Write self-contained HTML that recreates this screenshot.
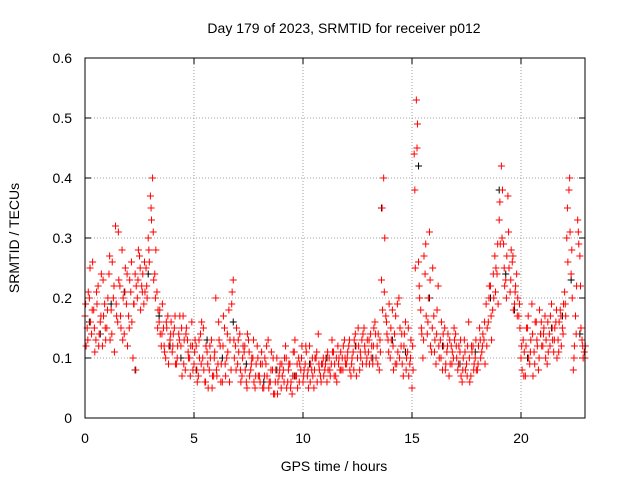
<!DOCTYPE html>
<html><head><meta charset="utf-8"><style>
body{margin:0;background:#fff;}
svg{display:block;font-family:"Liberation Sans",sans-serif;}
</style></head><body>
<svg id="chart" width="640" height="480" viewBox="0 0 640 480">
<rect width="640" height="480" fill="#fff"/>
<text x="344" y="33" font-size="14" text-anchor="middle">Day 179 of 2023, SRMTID for receiver p012</text>
<text x="334" y="471" font-size="14" text-anchor="middle">GPS time / hours</text>
<text transform="translate(19,238) rotate(-90)" font-size="14" text-anchor="middle">SRMTID / TECUs</text>
<g id="grid"></g><g id="ticks"></g><g id="black-pts"></g><g id="red-pts"></g>
<rect x="85" y="58" width="500" height="360" fill="none" stroke="#000" stroke-width="1"/>
</svg>
<script>
const xTicks=[0,5,10,15,20];
const yTicks=[0,0.1,0.2,0.3,0.4,0.5,0.6];
const yTickLabels=["0","0.1","0.2","0.3","0.4","0.5","0.6"];
const startA=0, startB=0.05, startC=0.03, step=0.1;
const redA=[.17,.15,.20,.14,.18,.13,.22,.16,.12,.19,.15,.24,.18,.20,.32,.16,.22,.28,.14,.19,.17,.21,.10,.24,.20,.27,.22,.19,.25,.30,.37,.40,.24,.21,.16,.12,.15,.10,.17,.13,.11,.15,.09,.14,.12,.17,.08,.13,.10,.16,.09,.12,.07,.14,.10,.06,.11,.08,.13,.07,.20,.09,.12,.06,.15,.10,.18,.08,.23,.12,.09,.14,.07,.11,.06,.13,.08,.10,.05,.12,.07,.11,.05,.09,.13,.06,.08,.04,.10,.07,.05,.08,.12,.06,.09,.04,.11,.07,.10,.08,.06,.09,.07,.12,.08,.05,.10,.14,.07,.09,.08,.06,.10,.09,.11,.07,.12,.08,.10,.13,.09,.12,.07,.11,.14,.10,.08,.13,.15,.09,.11,.14,.09,.16,.12,.08,.23,.40,.17,.13,.10,.18,.14,.09,.20,.12,.07,.16,.11,.09,.05,.44,.53,.26,.18,.10,.24,.14,.31,.11,.17,.09,.22,.13,.08,.15,.11,.07,.12,.10,.14,.08,.11,.06,.13,.09,.16,.07,.12,.10,.08,.15,.11,.13,.19,.16,.22,.18,.27,.24,.33,.42,.29,.23,.37,.21,.26,.19,.24,.17,.10,.13,.07,.15,.09,.19,.11,.16,.08,.14,.12,.17,.09,.14,.19,.11,.16,.13,.18,.15,.21,.30,.38,.24,.08,.17,.33,.27,.13,.11];
const redB=[.12,.21,.16,.26,.11,.19,.14,.24,.17,.13,.20,.13,.26,.11,.17,.23,.15,.20,.25,.12,.23,.16,.19,.22,.28,.18,.24,.21,.20,.26,.33,.23,.28,.18,.14,.19,.11,.15,.12,.16,.14,.09,.12,.17,.07,.13,.15,.10,.12,.08,.13,.06,.10,.16,.08,.12,.05,.10,.07,.11,.07,.13,.09,.17,.07,.11,.13,.21,.10,.15,.11,.06,.12,.08,.14,.07,.10,.06,.09,.07,.09,.05,.10,.07,.06,.11,.04,.08,.06,.09,.07,.10,.05,.09,.06,.11,.07,.05,.09,.12,.08,.11,.05,.09,.07,.10,.06,.08,.09,.07,.10,.08,.07,.11,.09,.06,.10,.08,.12,.09,.11,.08,.10,.13,.07,.12,.10,.14,.11,.13,.09,.12,.15,.10,.14,.11,.18,.30,.14,.19,.13,.08,.17,.11,.15,.09,.14,.10,.07,.13,.08,.25,.49,.20,.14,.27,.17,.20,.12,.25,.13,.18,.10,.16,.12,.09,.14,.09,.11,.13,.10,.12,.07,.10,.08,.12,.06,.11,.09,.08,.12,.10,.14,.09,.15,.22,.13,.20,.25,.19,.29,.38,.22,.27,.25,.28,.18,.22,.20,.15,.08,.11,.15,.10,.13,.07,.16,.12,.18,.12,.15,.13,.11,.17,.13,.15,.10,.16,.12,.19,.17,.26,.31,.20,.12,.22,.29,.15,.10,.12];
const redC=[.19,.13,.25,.18,.15,.21,.12,.17,.23,.15,.18,.27,.14,.22,.19,.31,.17,.13,.21,.24,.15,.26,.19,.08,.23,.25,.21,.26,.22,.28,.35,.31,.20,.15,.18,.14,.12,.16,.09,.14,.12,.17,.10,.13,.15,.09,.14,.11,.07,.12,.11,.08,.13,.09,.15,.06,.09,.12,.05,.10,.08,.16,.06,.12,.09,.14,.06,.19,.13,.08,.13,.08,.10,.12,.05,.11,.09,.13,.07,.10,.06,.09,.07,.12,.05,.08,.10,.06,.04,.08,.09,.06,.10,.08,.05,.07,.13,.09,.06,.10,.07,.12,.08,.06,.10,.08,.11,.09,.06,.10,.09,.11,.08,.13,.07,.10,.09,.11,.08,.10,.10,.13,.09,.08,.12,.15,.11,.09,.12,.10,.13,.10,.12,.14,.09,.13,.35,.21,.16,.11,.15,.12,.09,.19,.10,.14,.12,.08,.15,.10,.12,.38,.45,.22,.15,.13,.29,.16,.23,.15,.11,.14,.12,.10,.14,.08,.12,.13,.09,.15,.12,.09,.13,.08,.11,.07,.10,.12,.08,.13,.09,.13,.12,.16,.12,.20,.17,.24,.21,.29,.36,.30,.25,.20,.31,.23,.27,.21,.17,.19,.12,.07,.12,.17,.11,.14,.09,.13,.10,.16,.14,.10,.16,.12,.15,.13,.18,.11,.17,.14,.19,.35,.40,.28,.10,.14,.31,.22,.12,.10];
const blackTimes=[0.2,0.7,1.2,1.8,2.3,2.9,3.4,3.9,4.4,5.1,5.6,6.3,6.8,7.4,8.2,8.8,9.6,10.3,11.1,11.7,12.4,13.2,13.6,14.1,14.7,15.3,15.8,16.4,17.2,17.9,18.6,19.0,19.3,19.7,20.3,20.9,21.4,21.9,22.3,22.7];
const blackVals=[.16,.14,.19,.21,.08,.24,.17,.12,.10,.08,.13,.10,.16,.09,.06,.08,.07,.09,.10,.08,.12,.10,.35,.13,.11,.42,.20,.12,.09,.11,.20,.38,.24,.18,.10,.14,.15,.17,.23,.14];
const NS="http://www.w3.org/2000/svg";
const X=v=>85+v*21.8, Y=v=>418-v*600;
const grid=document.getElementById('grid'), ticks=document.getElementById('ticks');
function mk(tag,at,parent){const e=document.createElementNS(NS,tag);for(const k in at)e.setAttribute(k,at[k]);parent.appendChild(e);return e;}
xTicks.forEach(t=>{
  const l=mk('line',{x1:X(t),x2:X(t),y1:58,y2:418,stroke:'#a0a0a0','stroke-dasharray':'1,2'},grid);
  
  
  mk('line',{x1:X(t),x2:X(t),y1:418,y2:412,stroke:'#000'},ticks);
  mk('line',{x1:X(t),x2:X(t),y1:58,y2:64,stroke:'#000'},ticks);
  const tx=mk('text',{x:X(t),y:443,'font-size':14,'text-anchor':'middle'},ticks);
  tx.textContent=t;
  
  
});
yTicks.forEach((t,i)=>{
  const l=mk('line',{x1:85,x2:585,y1:Y(t),y2:Y(t),stroke:'#a0a0a0','stroke-dasharray':'1,2'},grid);
  
  
  mk('line',{x1:85,x2:91,y1:Y(t),y2:Y(t),stroke:'#000'},ticks);
  mk('line',{x1:585,x2:579,y1:Y(t),y2:Y(t),stroke:'#000'},ticks);
  const tx=mk('text',{x:72,y:Y(t)+5,'font-size':14,'text-anchor':'end'},ticks);
  tx.textContent=yTickLabels[i];
  
  
});
function plus(g,t,v,c){
  const x=X(t),y=Y(v);
  return mk('path',{d:`M${x-3.5},${y}H${x+3.5}M${x},${y-3.5}V${y+3.5}`,stroke:c,'stroke-width':1,fill:'none'},g);
}
const bg=document.getElementById('black-pts'), rg=document.getElementById('red-pts');
blackTimes.forEach((t,i)=>{
  const p=plus(bg,t,blackVals[i],'#000');
  
  
});
redA.forEach((v,i)=>{
  const p=plus(rg,startA+i*step,v,'#ff0000');
  
  
});
redB.forEach((v,i)=>{
  const p=plus(rg,startB+i*step,v,'#ff0000');
  
  
});
redC.forEach((v,i)=>{
  const p=plus(rg,startC+i*step,v,'#ff0000');
  
  
});
</script>
</body></html>
